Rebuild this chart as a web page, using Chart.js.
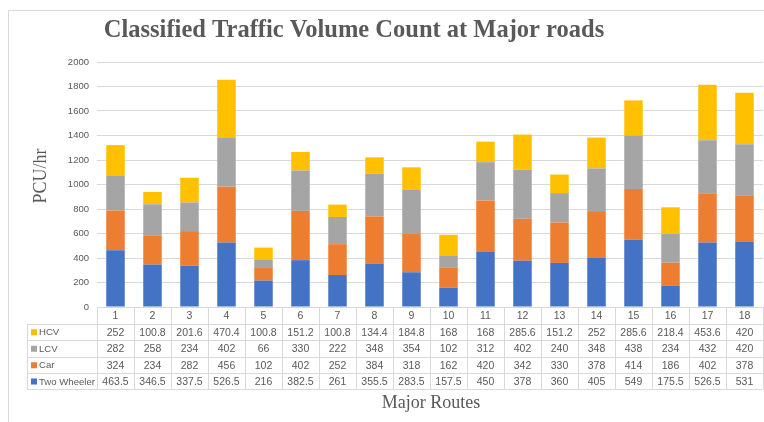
<!DOCTYPE html>
<html>
<head>
<meta charset="utf-8">
<script src="https://cdn.jsdelivr.net/npm/chart.js@4"></script>
<style>
  body { margin: 0; background: #fff; }
  #wrap { position: relative; width: 764px; height: 422px; }
</style>
</head>
<body>
<div id="wrap"><canvas id="trafficChart"></canvas></div>
<script>
const routes = ["1", "2", "3", "4", "5", "6", "7", "8", "9", "10", "11", "12", "13", "14", "15", "16", "17", "18"];
const twoWheeler = [463.5, 346.5, 337.5, 526.5, 216, 382.5, 261, 355.5, 283.5, 157.5, 450, 378, 360, 405, 549, 175.5, 526.5, 531];
const car = [324, 234, 282, 456, 102, 402, 252, 384, 318, 162, 420, 342, 330, 378, 414, 186, 402, 378];
const lcv = [282, 258, 234, 402, 66, 330, 222, 348, 354, 102, 312, 402, 240, 348, 438, 234, 432, 420];
const hcv = [252, 100.8, 201.6, 470.4, 100.8, 151.2, 100.8, 134.4, 184.8, 168, 168, 285.6, 151.2, 252, 285.6, 218.4, 453.6, 420];

const yTicks = [0, 200, 400, 600, 800, 1000, 1200, 1400, 1600, 1800, 2000];

const grey = "#595959";
const lineGrey = "#d9d9d9";
const sansFont = "'Liberation Sans', Arial, sans-serif";
const serifFont = "'Liberation Serif', 'Times New Roman', serif";

// frame, titles and the data table under the bars
const tablePlugin = {
    id: "tablePlugin",
    beforeDraw(chart) {
        const ctx = chart.ctx;
        ctx.save();
        ctx.strokeStyle = lineGrey;
        ctx.lineWidth = 1;
        ctx.strokeRect(8.5, 10.5, 800, 500);
        ctx.restore();
    },
    afterDraw(chart) {
        const ctx = chart.ctx;
        const x = chart.scales.x;
        const area = chart.chartArea;
        const half = (x.getPixelForValue(1) - x.getPixelForValue(0)) / 2;
        const left = x.getPixelForValue(0) - half;
        const right = x.getPixelForValue(routes.length - 1) + half;
        const legendLeft = 27;
        const rowTops = [area.bottom, area.bottom + 16.5, area.bottom + 33, area.bottom + 49.5, area.bottom + 66, area.bottom + 82];

        ctx.save();
        // titles
        ctx.fillStyle = grey;
        ctx.textAlign = "center";
        ctx.textBaseline = "middle";
        ctx.font = "bold 24.5px " + serifFont;
        ctx.fillText("Classified Traffic Volume Count at Major roads", 354, 31);
        ctx.font = "18px " + serifFont;
        ctx.fillText("Major Routes", 431, 403);
        ctx.save();
        ctx.translate(41, 176);
        ctx.rotate(-Math.PI / 2);
        ctx.font = "18px " + serifFont;
        ctx.fillText("PCU/hr", 0, 0);
        ctx.restore();

        // table lines
        ctx.strokeStyle = lineGrey;
        ctx.lineWidth = 1;
        ctx.beginPath();
        for (let r = 0; r < rowTops.length; r++) {
            const y = Math.round(rowTops[r]) + 0.5;
            ctx.moveTo(r === 0 ? left : legendLeft, y);
            ctx.lineTo(right, y);
        }
        for (let i = 0; i <= routes.length; i++) {
            const xx = Math.round(left + i * half * 2) + 0.5;
            ctx.moveTo(xx, rowTops[0]);
            ctx.lineTo(xx, rowTops[rowTops.length - 1]);
        }
        ctx.moveTo(legendLeft + 0.5, rowTops[1]);
        ctx.lineTo(legendLeft + 0.5, rowTops[rowTops.length - 1]);
        ctx.stroke();

        // header row
        ctx.font = "10.5px " + sansFont;
        ctx.fillStyle = grey;
        chart.data.labels.forEach((lab, i) => {
            ctx.fillText(lab, x.getPixelForValue(i), (rowTops[0] + rowTops[1]) / 2 + 1);
        });

        // one row per series, top series first
        const sets = chart.data.datasets.slice().reverse();
        sets.forEach((ds, r) => {
            const yMid = (rowTops[r + 1] + rowTops[r + 2]) / 2 + 1;
            ctx.fillStyle = ds.backgroundColor;
            ctx.fillRect(31, yMid - 3.5, 6, 6);
            ctx.fillStyle = grey;
            ctx.textAlign = "left";
            ctx.font = "9.6px " + sansFont;
            ctx.fillText(ds.label, 39, yMid);
            ctx.textAlign = "center";
            ctx.font = "10.5px " + sansFont;
            ds.data.forEach((v, i) => {
                ctx.fillText(String(v), x.getPixelForValue(i), yMid);
            });
        });
        ctx.restore();
    }
};

new Chart(document.getElementById("trafficChart"), {
    type: "bar",
    data: {
        labels: routes,
        datasets: [
            { label: "Two Wheeler", data: twoWheeler, backgroundColor: "#4472c4" },
            { label: "Car", data: car, backgroundColor: "#ed7d31" },
            { label: "LCV", data: lcv, backgroundColor: "#a5a5a5" },
            { label: "HCV", data: hcv, backgroundColor: "#ffc000" },
        ],
    },
    options: {
        responsive: true,
        maintainAspectRatio: false,
        animation: false,
        layout: { padding: { left: 0, right: 1, top: 62, bottom: 0 } },
        datasets: { bar: { barPercentage: 0.5, categoryPercentage: 1, borderWidth: 0 } },
        plugins: {
            legend: { display: false },
            title: { display: false },
            tooltip: { enabled: false },
        },
        scales: {
            x: {
                stacked: true,
                grid: { display: false },
                border: { display: false },
                ticks: { display: false },
                afterFit(scale) { scale.height = 115; },
            },
            y: {
                stacked: true,
                min: 0,
                max: 2000,
                afterBuildTicks(scale) { scale.ticks = yTicks.map(v => ({ value: v })); },
                grid: { color: lineGrey, drawTicks: false },
                border: { display: false },
                ticks: {
                    color: grey,
                    padding: 8,
                    font: { size: 9.5, family: sansFont },
                    callback: (v) => String(v),
                },
                afterFit(scale) { scale.width = 97; },
            },
        },
    },
    plugins: [tablePlugin],
});
</script>
</body>
</html>
